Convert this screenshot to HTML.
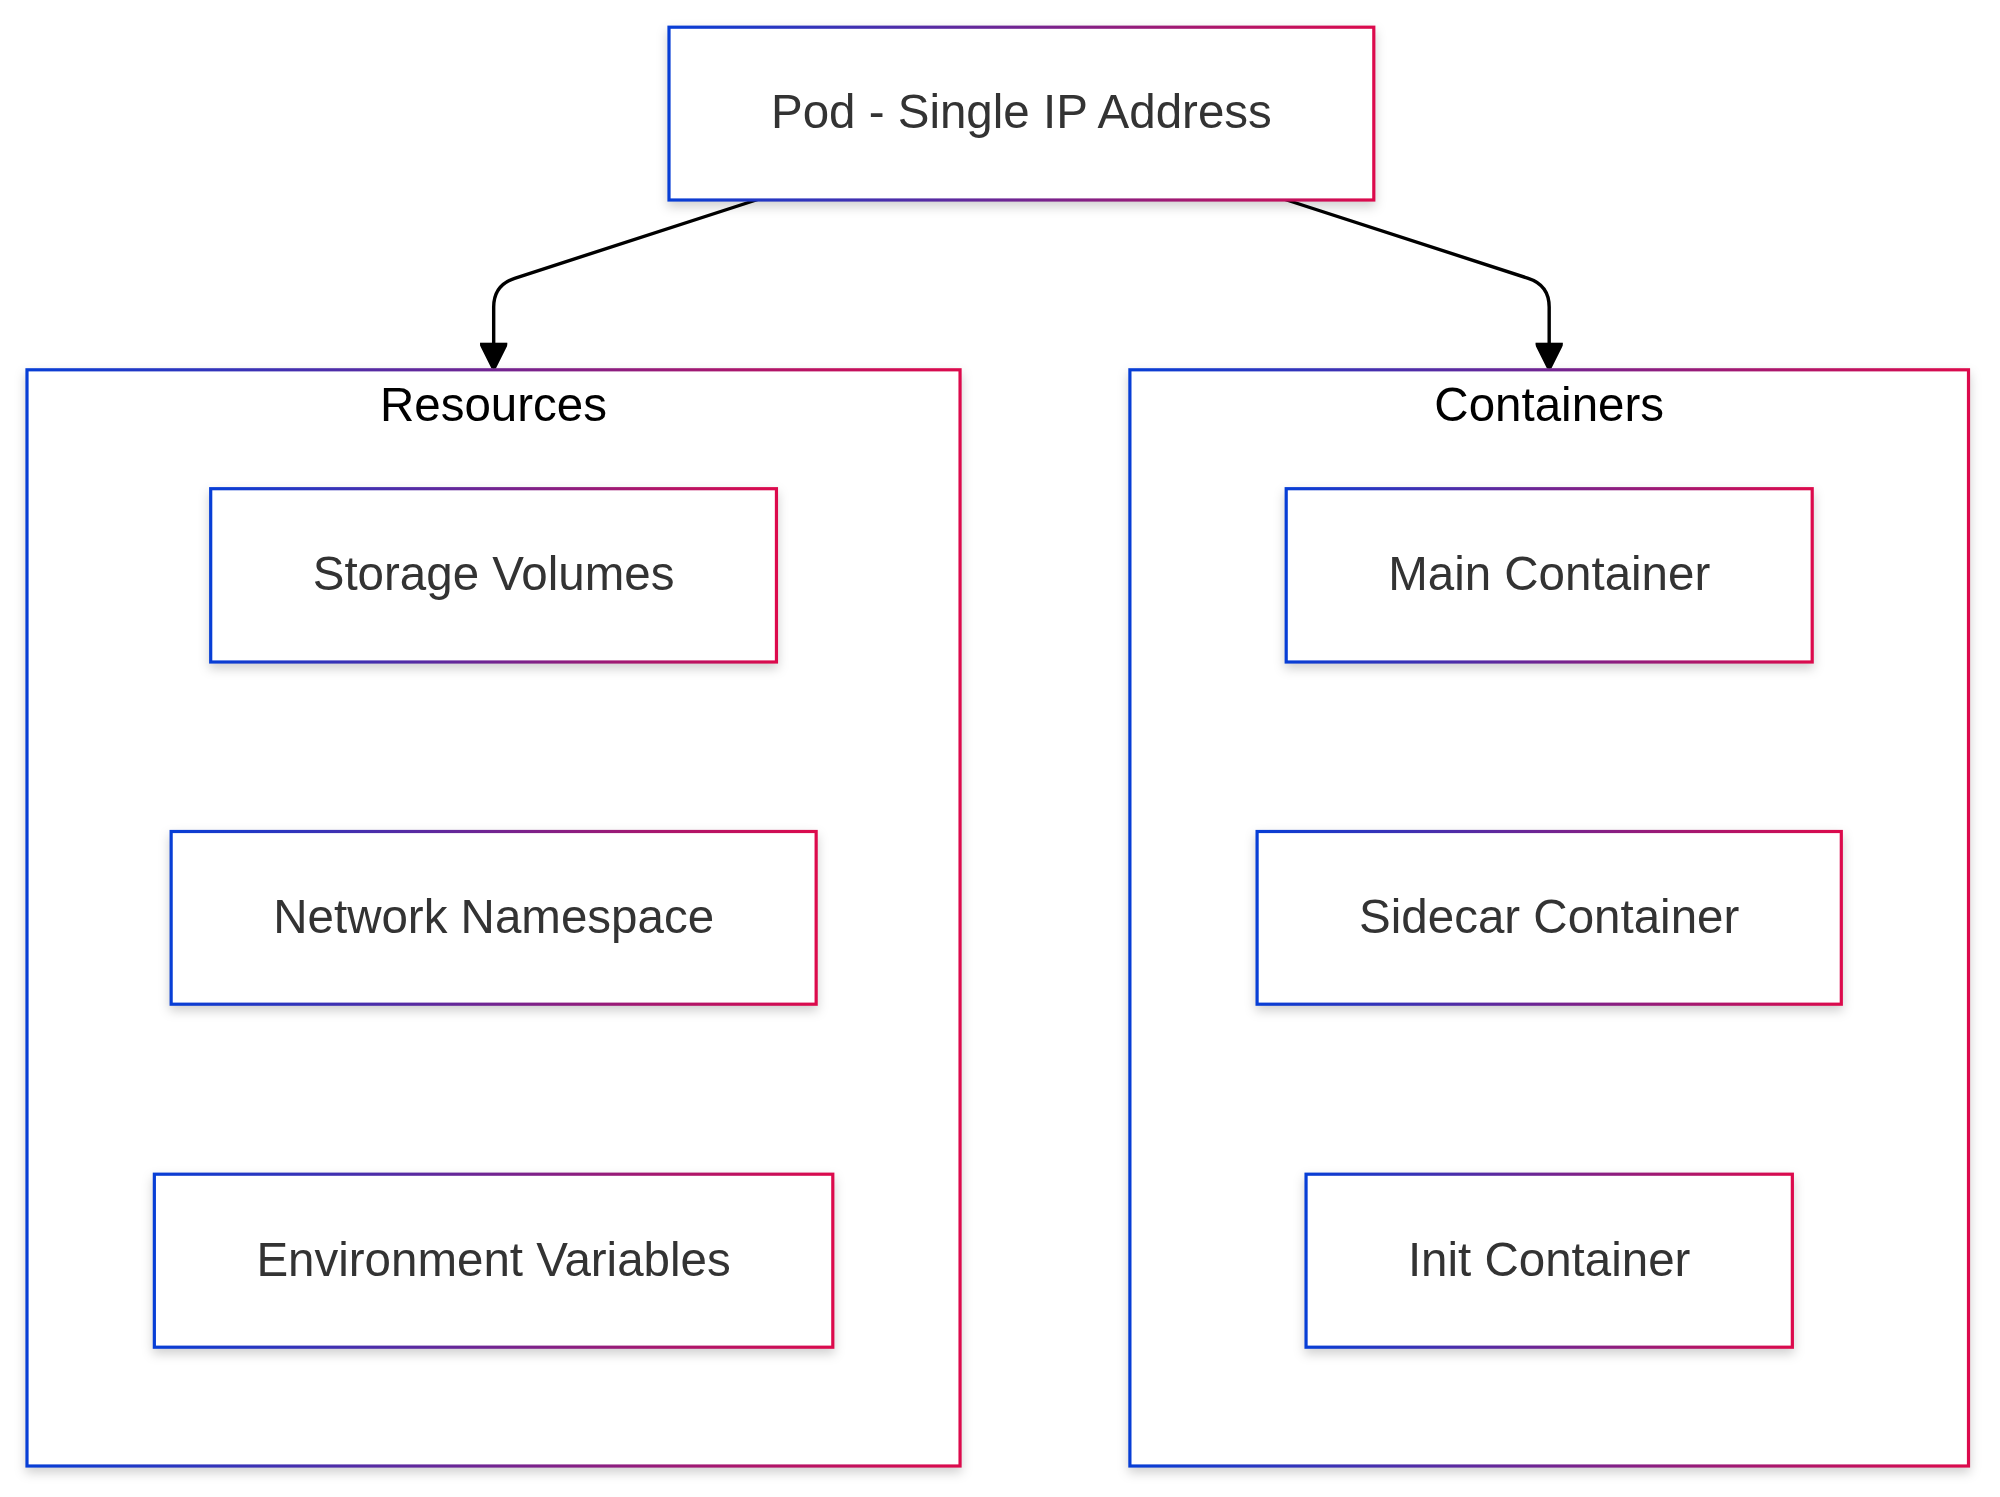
<!DOCTYPE html>
<html lang="en">
<head>
<meta charset="utf-8">
<title>Pod - Single IP Address</title>
<style>
html, body { margin: 0; padding: 0; background: #ffffff; }
body { width: 2000px; height: 1497px; overflow: hidden; }
svg { display: block; }
text { font-family: "Liberation Sans", Arial, Helvetica, sans-serif; font-size: 47.5px; text-anchor: middle; }
.box { fill: #ffffff; stroke: url(#grad); stroke-width: 3.2; filter: url(#shadow); }
.labels { opacity: 0.999; }
.node-label { fill: #333333; }
.cluster-label { fill: #000000; }
.edge { fill: none; stroke: #000000; stroke-width: 3.4; stroke-linecap: butt; stroke-linejoin: round; }
.arrow { fill: #000000; stroke: #000000; stroke-width: 2.7; stroke-linejoin: miter; }
</style>
</head>
<body>
<svg width="2000" height="1497" viewBox="0 0 2000 1497">
<defs>
<linearGradient id="grad" x1="0" y1="0" x2="1" y2="0">
<stop offset="0" stop-color="#073ed6"/>
<stop offset="1" stop-color="#dc0a4c"/>
</linearGradient>
<filter id="shadow" x="-15%" y="-30%" width="130%" height="170%" color-interpolation-filters="sRGB">
<feGaussianBlur in="SourceAlpha" stdDeviation="5.5" result="b"/>
<feOffset in="b" dx="0" dy="4.5" result="o"/>
<feFlood flood-color="#000000" flood-opacity="0.19"/>
<feComposite in2="o" operator="in"/>
<feMerge><feMergeNode/><feMergeNode in="SourceGraphic"/></feMerge>
</filter>
<clipPath id="clipL"><rect x="480.05" y="342.65" width="27.25" height="25.7"/></clipPath>
<clipPath id="clipR"><rect x="1535.55" y="342.65" width="27.25" height="25.7"/></clipPath>
</defs>
<rect x="0" y="0" width="2000" height="1497" fill="#ffffff"/>

<g id="clusters">
<rect class="box" x="27.00" y="369.80" width="933.05" height="1096.20"/>
<rect class="box" x="1129.90" y="369.80" width="838.60" height="1096.20"/>
</g>
<g id="edges">
<path class="edge" d="M759.24,199.00 L514.61,278.31 Q493.68,285.10 493.68,307.10 L493.68,346.65"/>
<g clip-path="url(#clipL)"><polygon class="arrow" points="480.06,342.65 507.31,342.65 493.68,369.9"/></g>
<path class="edge" d="M1283.59,199.00 L1528.25,278.32 Q1549.18,285.10 1549.18,307.10 L1549.18,346.65"/>
<g clip-path="url(#clipR)"><polygon class="arrow" points="1535.56,342.65 1562.81,342.65 1549.18,369.9"/></g>
</g>
<g id="nodes">
<rect class="box" x="669.00" y="27.20" width="704.80" height="172.80"/>
<rect class="box" x="210.70" y="488.70" width="565.75" height="173.30"/>
<rect class="box" x="171.15" y="831.50" width="645.00" height="172.70"/>
<rect class="box" x="154.35" y="1174.20" width="678.45" height="173.00"/>
<rect class="box" x="1286.20" y="488.70" width="526.00" height="173.30"/>
<rect class="box" x="1257.10" y="831.50" width="584.20" height="172.70"/>
<rect class="box" x="1306.05" y="1174.20" width="486.30" height="173.00"/>
</g>
<g class="labels">
<text class="cluster-label" x="493.52" y="420.8">Resources</text>
<text class="cluster-label" x="1549.20" y="420.8">Containers</text>
<text class="node-label" x="1021.40" y="128.40">Pod - Single IP Address</text>
<text class="node-label" x="493.58" y="590.15">Storage Volumes</text>
<text class="node-label" x="493.65" y="932.65">Network Namespace</text>
<text class="node-label" x="493.57" y="1275.50">Environment Variables</text>
<text class="node-label" x="1549.20" y="590.15">Main Container</text>
<text class="node-label" x="1549.20" y="932.65">Sidecar Container</text>
<text class="node-label" x="1549.20" y="1275.50">Init Container</text>
</g>
</svg>
</body>
</html>
